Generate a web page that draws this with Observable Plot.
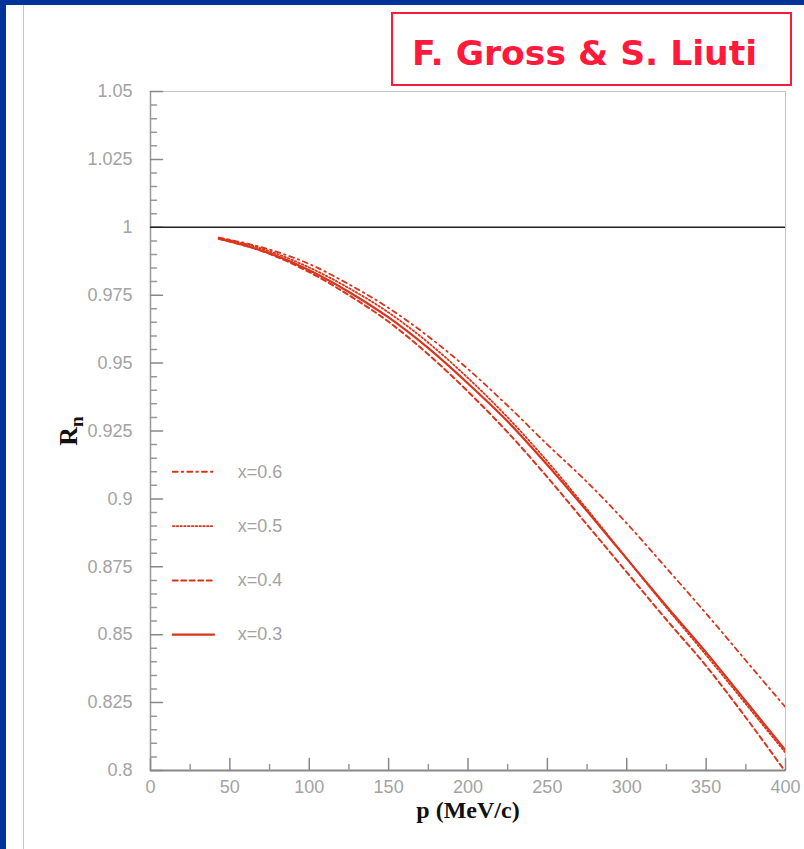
<!DOCTYPE html>
<html><head><meta charset="utf-8">
<script src="https://cdn.jsdelivr.net/npm/d3@7"></script>
<script src="https://cdn.jsdelivr.net/npm/@observablehq/plot@0.6"></script>
<style>
html,body{margin:0;padding:0;background:#fff;}
#wrap{position:relative;width:804px;height:849px;overflow:hidden;background:#fff;}
#wrap > svg{position:absolute;left:0;top:0;}
.bar-top{position:absolute;left:0;top:0;width:804px;height:5px;background:#003399;}
.bar-left{position:absolute;left:0;top:0;width:6px;height:849px;background:#003399;}
.vline{position:absolute;left:23px;top:5px;width:1px;height:844px;background:#c8c8c8;}
#title{position:absolute;left:391px;top:12px;width:401px;height:74px;box-sizing:border-box;border:2px solid #ff1a3c;}
</style>
</head><body>
<div id="wrap"></div>
<script>
// ---- data ----
const p = [43, 75, 100, 125, 150, 175, 200, 225, 250, 275, 300, 325, 350, 375, 400];
const r03 = [0.9958, 0.9905, 0.9842, 0.9762, 0.9668, 0.9555, 0.9425, 0.9285, 0.9125, 0.8955, 0.8780, 0.8605, 0.8435, 0.8255, 0.8074];
const r04 = [0.9958, 0.9902, 0.9835, 0.9750, 0.9652, 0.9532, 0.9395, 0.9245, 0.9080, 0.8905, 0.8730, 0.8555, 0.8385, 0.8195, 0.7995];
const r05 = [0.9962, 0.9912, 0.9852, 0.9776, 0.9686, 0.9575, 0.9445, 0.9300, 0.9138, 0.8962, 0.8780, 0.8600, 0.8425, 0.8245, 0.8065];
const r06 = [0.9962, 0.9918, 0.9865, 0.9790, 0.9703, 0.9598, 0.9478, 0.9343, 0.9200, 0.9062, 0.8910, 0.8745, 0.8578, 0.8405, 0.8233];
const seriesNames = ["x=0.6", "x=0.5", "x=0.4", "x=0.3"];
const yTicks = [0.8, 0.825, 0.85, 0.875, 0.9, 0.925, 0.95, 0.975, 1, 1.025, 1.05];
const yTickLabels = ["0.8", "0.825", "0.85", "0.875", "0.9", "0.925", "0.95", "0.975", "1", "1.025", "1.05"];
const xTicks = [0, 50, 100, 150, 200, 250, 300, 350, 400];
const xTickLabels = ["0", "50", "100", "150", "200", "250", "300", "350", "400"];
const xLabel = "p (MeV/c)";
const titleText = "F. Gross & S. Liuti";

// ---- derived ----
const seriesValues = [r06, r05, r04, r03];
const yMinor = d3.range(0, 51).map(i => +(0.8 + i * 0.005).toFixed(3)).filter(v => !yTicks.some(t => Math.abs(t - v) < 1e-9));
const xMinor = d3.range(25, 400, 50);
const red = "#d9341c";
const styles = [
  {strokeWidth: 1.8, strokeDasharray: "5,4,1.6,4"},
  {strokeWidth: 1.8, strokeDasharray: "1.6,2.2"},
  {strokeWidth: 2, strokeDasharray: "5,3.5"},
  {strokeWidth: 2.2, strokeDasharray: null}
];
const tickShape = {draw(context, l) { context.moveTo(0, 0); context.lineTo(0, -l); }};
const legendY = [0.91, 0.89, 0.87, 0.85];
const tickFont = {fontFamily: "Liberation Sans, Arial, sans-serif", fontSize: 18};

const marks = [
  Plot.frame({stroke: "#c4c4c4"}),
  Plot.ruleX([0], {stroke: "#999", strokeWidth: 1.5}),
  Plot.ruleY([0.8], {stroke: "#888", strokeWidth: 2}),
  Plot.vector(yTicks, {x: 0, y: d => d, length: 12, rotate: 90, anchor: "start", shape: tickShape, stroke: "#888"}),
  Plot.vector(yMinor, {x: 0, y: d => d, length: 6, rotate: 90, anchor: "start", shape: tickShape, stroke: "#999"}),
  Plot.vector(xTicks, {x: d => d, y: 0.8, length: 12, rotate: 0, anchor: "start", shape: tickShape, stroke: "#888"}),
  Plot.vector(xMinor, {x: d => d, y: 0.8, length: 6, rotate: 0, anchor: "start", shape: tickShape, stroke: "#999"}),
  Plot.ruleY([1], {stroke: "#222", strokeWidth: 1.5}),
  Plot.axisY({ticks: yTicks, tickSize: 0, tickPadding: 18, tickFormat: d => yTickLabels[yTicks.indexOf(d)], color: "#a3a3a3", ...tickFont, label: null}),
  Plot.axisX({ticks: xTicks, tickSize: 0, tickPadding: 10, tickFormat: d => xTickLabels[xTicks.indexOf(d)], color: "#a3a3a3", ...tickFont, label: null}),
  Plot.text([xLabel], {frameAnchor: "bottom", dy: 47, fontFamily: "Liberation Serif, Times New Roman, serif", fontWeight: "bold", fontSize: 24, fill: "#111"})
];
seriesValues.forEach((vals, k) => {
  const rows = p.map((x, i) => ({x, y: vals[i]}));
  marks.push(Plot.line(rows, {x: "x", y: "y", stroke: red, curve: "monotone-x", clip: true, ...styles[k]}));
  marks.push(Plot.line([{x: 14, y: legendY[k]}, {x: 40, y: legendY[k]}], {x: "x", y: "y", stroke: red, ...styles[k]}));
  marks.push(Plot.text([seriesNames[k]], {x: 55, y: legendY[k], textAnchor: "start", fill: "#a3a3a3", ...tickFont}));
});

const chart = Plot.plot({
  width: 804, height: 849,
  marginLeft: 150, marginRight: 19, marginTop: 91, marginBottom: 79,
  x: {domain: [0, 400]},
  y: {domain: [0.8, 1.05]},
  style: {background: "transparent", overflow: "visible"},
  marks
});

// y-axis title with subscript
const svg = d3.select(chart);
const yt = svg.append("text")
  .attr("transform", "translate(77,431) rotate(-90)")
  .attr("text-anchor", "middle")
  .attr("font-family", "Liberation Serif, Times New Roman, serif")
  .attr("font-weight", "bold")
  .attr("font-size", 26)
  .attr("fill", "#111");
yt.append("tspan").text("R");
yt.append("tspan").attr("dy", 6).attr("font-size", 19).text("n");

const wrap = document.getElementById("wrap");
wrap.appendChild(chart);
wrap.insertAdjacentHTML("beforeend", '<div class="vline"></div><div class="bar-top"></div><div class="bar-left"></div><div id="title"></div>');
const tsvg = d3.select("#title").append("svg").attr("width", 397).attr("height", 70).style("position", "absolute").style("left", 0).style("top", 0);
tsvg.append("text").attr("x", 19).attr("y", 51)
  .attr("font-family", "Comic Sans MS, DejaVu Sans, sans-serif")
  .attr("font-weight", "bold").attr("font-size", 34).attr("fill", "#ff1a3c")
  .attr("textLength", 345).attr("lengthAdjust", "spacingAndGlyphs")
  .text(titleText);
</script>
</body></html>
